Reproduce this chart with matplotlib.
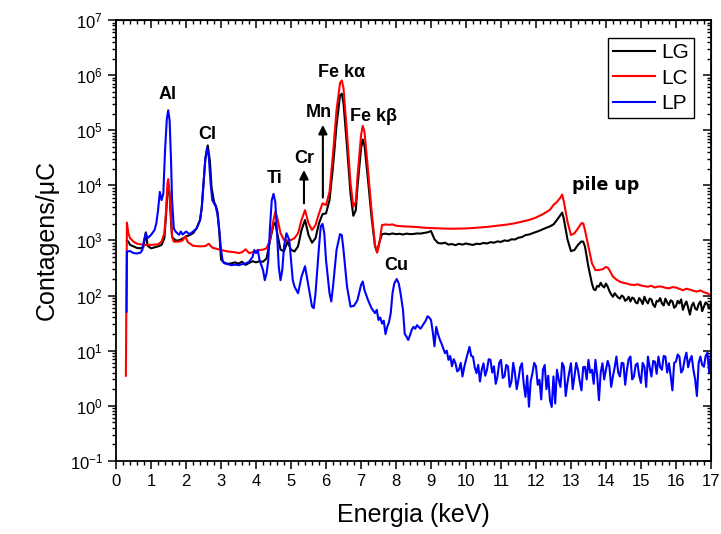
import numpy as np
import matplotlib
matplotlib.use("Agg")
import matplotlib.pyplot as plt
from matplotlib.ticker import MultipleLocator, LogLocator, NullFormatter

plt.rcParams['font.family'] = ['Liberation Sans', 'DejaVu Sans']
plt.rcParams['mathtext.fontset'] = 'custom'
plt.rcParams['mathtext.rm'] = 'Liberation Sans'
plt.rcParams['axes.unicode_minus'] = False

# LG (preto)
lg_e = [0.31, 0.35, 0.4, 0.5, 0.6, 0.7, 0.78, 0.85, 0.9, 1.0,
        1.1, 1.2, 1.3, 1.38, 1.43, 1.47, 1.5, 1.53, 1.57, 1.6,
        1.7, 1.8, 1.9, 2.0, 2.1, 2.2, 2.3, 2.4, 2.45, 2.5,
        2.55, 2.62, 2.68, 2.73, 2.8, 2.85, 2.9, 2.95, 3.0, 3.1,
        3.2, 3.3, 3.4, 3.5, 3.6, 3.7, 3.8, 3.9, 4.0, 4.1,
        4.2, 4.3, 4.4, 4.5, 4.55, 4.6, 4.7, 4.8, 4.9, 5.0,
        5.1, 5.2, 5.3, 5.4, 5.5, 5.6, 5.7, 5.8, 5.9, 6.0,
        6.1, 6.2, 6.3, 6.4, 6.45, 6.5, 6.6, 6.7, 6.78, 6.85,
        6.9, 7.0, 7.05, 7.1, 7.2, 7.3, 7.4, 7.46, 7.52, 7.6,
        7.7, 7.8, 7.9, 8.0, 8.1, 8.2, 8.3, 8.4, 8.5, 8.6,
        8.7, 8.8, 8.9, 9.0, 9.1, 9.2, 9.3, 9.4, 9.5, 9.6,
        9.7, 9.8, 9.9, 10.0, 10.1, 10.2, 10.3, 10.4, 10.5, 10.6,
        10.7, 10.8, 10.9, 11.0, 11.1, 11.2, 11.3, 11.4, 11.5, 11.6,
        11.7, 11.8, 11.9, 12.0, 12.1, 12.2, 12.3, 12.4, 12.5, 12.6,
        12.7, 12.75, 12.8, 12.9, 13.0, 13.1, 13.2, 13.3, 13.35, 13.4,
        13.5, 13.6, 13.65, 13.7, 13.75, 13.8, 13.85, 13.9, 13.95, 14.0,
        14.05, 14.1, 14.15, 14.2, 14.25, 14.3, 14.35, 14.4, 14.45, 14.5,
        14.55, 14.6, 14.65, 14.7, 14.75, 14.8, 14.85, 14.9, 14.95, 15.0,
        15.05, 15.1, 15.15, 15.2, 15.25, 15.3, 15.35, 15.4, 15.45, 15.5,
        15.55, 15.6, 15.65, 15.7, 15.75, 15.8, 15.85, 15.9, 15.95, 16.0,
        16.05, 16.1, 16.15, 16.2, 16.25, 16.3, 16.35, 16.4, 16.45, 16.5,
        16.55, 16.6, 16.65, 16.7, 16.75, 16.8, 16.85, 16.9, 16.95, 17.0]
lg_c = [1000, 950, 830, 780, 730, 720, 760, 1400, 800, 720,
        750, 780, 830, 1100, 3000, 8500, 10000, 6500, 2300, 1150,
        1000, 1000, 1080, 1180, 1250, 1350, 1650, 2350, 4000, 11000,
        30000, 53000, 28000, 9000, 5000, 4300, 3300, 1400, 450, 390,
        375, 385, 400, 380, 410, 360, 390, 420, 400, 420,
        410, 470, 1000, 1950, 2100, 1400, 680, 640, 950, 680,
        630, 780, 1550, 2350, 1250, 910, 1100, 2050, 3000, 3100,
        5400, 22000, 120000, 430000, 460000, 310000, 50000, 7100, 2800, 3500,
        9500, 46000, 68000, 53000, 12500, 2700, 780, 620, 900, 1300,
        1330, 1290, 1340, 1300, 1320, 1280, 1330, 1300, 1310, 1340,
        1330, 1370, 1400, 1480, 1050, 900, 880, 910, 840, 860,
        820, 870, 840, 880, 850, 830, 870, 860, 900, 880,
        930, 910, 960, 940, 1000, 980, 1050, 1040, 1120, 1150,
        1250, 1280, 1350, 1420, 1500, 1600, 1700, 1800, 1950, 2350,
        2900, 3200, 2400, 1050, 640, 670, 830, 960, 950, 780,
        330, 165, 130, 125, 150, 145, 170, 150, 140, 165,
        145, 120, 105, 95, 110, 100, 92, 88, 100, 95,
        80, 85, 95, 78, 92, 88, 75, 72, 90, 82,
        70, 95, 80, 72, 88, 85, 68, 62, 80, 78,
        90, 72, 66, 88, 75, 67, 82, 78, 60, 64,
        80, 72, 85, 55, 68, 78, 60, 45, 65, 74,
        58, 55, 70, 78, 52, 63, 75, 70, 58, 67]

# LC (vermelho)
lc_e = [0.28, 0.31, 0.35, 0.4, 0.5, 0.6, 0.8, 1.0, 1.2, 1.3,
        1.38, 1.43, 1.47, 1.49, 1.53, 1.57, 1.6, 1.65, 1.8, 1.9,
        1.98, 2.05, 2.2, 2.4, 2.55, 2.65, 2.75, 3.0, 3.2, 3.4,
        3.5, 3.6, 3.7, 3.8, 3.9, 4.0, 4.1, 4.2, 4.3, 4.4,
        4.5, 4.55, 4.6, 4.7, 4.8, 4.9, 5.0, 5.1, 5.2, 5.3,
        5.4, 5.5, 5.6, 5.7, 5.8, 5.9, 6.0, 6.1, 6.2, 6.3,
        6.4, 6.45, 6.5, 6.6, 6.7, 6.78, 6.85, 6.9, 7.0, 7.05,
        7.1, 7.2, 7.3, 7.4, 7.46, 7.52, 7.6, 7.7, 7.8, 7.9,
        8.0, 8.2, 8.4, 8.6, 8.8, 9.0, 9.2, 9.4, 9.6, 9.8,
        10.0, 10.2, 10.4, 10.6, 10.8, 11.0, 11.2, 11.4, 11.6, 11.8,
        12.0, 12.2, 12.4, 12.5, 12.6, 12.7, 12.75, 12.8, 12.9, 13.0,
        13.1, 13.2, 13.3, 13.35, 13.4, 13.5, 13.6, 13.7, 13.8, 13.9,
        14.0, 14.05, 14.1, 14.2, 14.3, 14.4, 14.5, 14.6, 14.7, 14.8,
        14.9, 15.0, 15.1, 15.2, 15.3, 15.4, 15.5, 15.6, 15.7, 15.8,
        15.9, 16.0, 16.1, 16.2, 16.3, 16.4, 16.5, 16.6, 16.7, 16.8,
        16.9, 17.0]
lc_c = [3.5, 2100, 1350, 1100, 950, 870, 830, 830, 850, 950,
        1350, 3550, 11000, 13000, 7000, 2700, 1180, 950, 950, 1000,
        1180, 930, 800, 780, 790, 870, 740, 670, 630, 610,
        590, 610, 690, 590, 610, 640, 670, 680, 720, 1020,
        2350, 3300, 2700, 1350, 1020, 1000, 1020, 1100, 1350, 2350,
        3550, 2050, 1550, 1900, 3100, 4700, 4400, 7600, 38000, 230000,
        720000, 800000, 580000, 88000, 11000, 4100, 5000, 14500, 80000, 120000,
        93000, 19000, 3550, 830, 600, 850, 1900, 1950, 1920, 1950,
        1850, 1800, 1780, 1750, 1700, 1680, 1660, 1640, 1630, 1640,
        1650, 1680, 1720, 1760, 1820, 1880, 1950, 2050, 2200, 2350,
        2600, 3000, 3600, 4400, 5000, 6000, 6800, 5000, 2200, 1250,
        1350, 1650, 2050, 2050, 1550, 780, 385, 290, 290, 300,
        330, 320, 290, 220, 195, 178, 170, 165, 158, 155,
        160, 152, 148, 145, 150, 140, 146, 145, 138, 135,
        142, 140, 132, 125, 133, 128, 122, 118, 124, 115,
        110, 100]

# LP (azul)
lp_e = [0.3, 0.31, 0.4, 0.5, 0.6, 0.7, 0.75, 0.8, 0.85, 0.9,
        1.0, 1.1, 1.15, 1.2, 1.25, 1.3, 1.35, 1.4, 1.45, 1.49,
        1.53, 1.57, 1.6, 1.65, 1.7, 1.8, 1.85, 1.9, 2.0, 2.1,
        2.2, 2.3, 2.4, 2.45, 2.5, 2.55, 2.6, 2.65, 2.7, 2.75,
        2.8, 2.85, 2.9, 2.95, 3.0, 3.05, 3.1, 3.2, 3.3, 3.4,
        3.5, 3.6, 3.7, 3.8, 3.9, 3.95, 4.0, 4.05, 4.1, 4.2,
        4.25, 4.3, 4.35, 4.4, 4.45, 4.5, 4.55, 4.6, 4.65, 4.7,
        4.75, 4.8, 4.87, 4.95, 5.0, 5.05, 5.1, 5.2, 5.3, 5.4,
        5.5, 5.6, 5.65, 5.7, 5.8, 5.85, 5.9, 5.95, 6.0, 6.1,
        6.15, 6.2, 6.3, 6.4, 6.45, 6.5, 6.6, 6.7, 6.8, 6.9,
        7.0, 7.05, 7.1, 7.2, 7.3, 7.4, 7.45, 7.5, 7.55, 7.6,
        7.65, 7.7, 7.75, 7.8, 7.85, 7.9, 7.95, 8.02, 8.08, 8.13,
        8.2, 8.25, 8.3, 8.35, 8.4, 8.45, 8.5, 8.55, 8.6, 8.65,
        8.7, 8.75, 8.8, 8.85, 8.9, 8.95, 9.0, 9.05, 9.1, 9.15,
        9.2, 9.25, 9.3, 9.35, 9.4, 9.45, 9.5, 9.55, 9.6, 9.65,
        9.7, 9.75, 9.8, 9.85, 9.9, 9.95, 10.0, 10.05, 10.1, 10.15,
        10.2, 10.25, 10.3, 10.35, 10.4, 10.45, 10.5, 10.55, 10.6, 10.65,
        10.7, 10.75, 10.8, 10.85, 10.9, 10.95, 11.0, 11.05, 11.1, 11.15,
        11.2, 11.25, 11.3, 11.35, 11.4, 11.45, 11.5, 11.55, 11.6, 11.65,
        11.7, 11.75, 11.8, 11.85, 11.9, 11.95, 12.0, 12.05, 12.1, 12.15,
        12.2, 12.25, 12.3, 12.35, 12.4, 12.45, 12.5, 12.55, 12.6, 12.65,
        12.7, 12.75, 12.8, 12.85, 12.9, 12.95, 13.0, 13.05, 13.1, 13.15,
        13.2, 13.25, 13.3, 13.35, 13.4, 13.45, 13.5, 13.55, 13.6, 13.65,
        13.7, 13.75, 13.8, 13.85, 13.9, 13.95, 14.0, 14.05, 14.1, 14.15,
        14.2, 14.25, 14.3, 14.35, 14.4, 14.45, 14.5, 14.55, 14.6, 14.65,
        14.7, 14.75, 14.8, 14.85, 14.9, 14.95, 15.0, 15.05, 15.1, 15.15,
        15.2, 15.25, 15.3, 15.35, 15.4, 15.45, 15.5, 15.55, 15.6, 15.65,
        15.7, 15.75, 15.8, 15.85, 15.9, 15.95, 16.0, 16.05, 16.1, 16.15,
        16.2, 16.25, 16.3, 16.35, 16.4, 16.45, 16.5, 16.55, 16.6, 16.65,
        16.7, 16.75, 16.8, 16.85, 16.9, 16.95, 17.0]
lp_c = [51, 630, 640, 590, 580, 600, 670, 1020, 1350, 1100,
        1260, 1550, 2050, 3550, 7600, 5400, 7100, 44000, 160000, 230000,
        150000, 29000, 5400, 1650, 1450, 1260, 1450, 1280, 1450, 1300,
        1450, 1650, 2350, 4100, 11000, 30000, 48000, 33000, 11000, 5400,
        4700, 4100, 2900, 1550, 670, 410, 385, 370, 355, 365,
        355, 370, 380, 410, 500, 670, 590, 670, 440, 290,
        190, 250, 440, 1800, 5400, 7000, 5000, 1350, 330, 190,
        290, 780, 1350, 1020, 440, 190, 145, 110, 220, 340,
        145, 63, 59, 110, 780, 1800, 2000, 1350, 440, 110,
        78, 145, 670, 1300, 1250, 670, 145, 63, 65, 83,
        155, 180, 125, 83, 59, 48, 55, 36, 40, 31,
        35, 20, 27, 33, 48, 110, 165, 200, 165, 110,
        55, 20, 18, 15.6, 19, 24, 27, 25, 29, 27,
        25, 28, 31.5, 35, 42, 40, 36, 22, 12, 27,
        20, 16, 13.5, 11, 9, 10, 6.8, 8, 5.2, 7,
        5.9, 4.2, 4.5, 6, 3.4, 5, 6.8, 9, 11.7, 8,
        7.8, 5, 3.9, 5.5, 2.75, 4.5, 5.9, 3.5, 4.5, 7,
        6.8, 4, 5.2, 2.5, 3.4, 6, 6.8, 3.2, 3.4, 5.5,
        5.2, 2.2, 2.75, 6, 3.9, 2, 3, 5, 5.9, 2.5,
        1.45, 3.5, 0.96, 2.8, 3.9, 6, 5.2, 2.4, 2.96, 1.3,
        4.5, 5.5, 2, 3.5, 1.26, 0.95, 3.4, 1.1, 4.5, 3,
        2.2, 6, 5.1, 1.5, 2.6, 4, 5.9, 2, 3.4, 6,
        4.5, 2.8, 1.9, 5, 5.1, 3, 6.8, 4, 4.5, 2.5,
        6.8, 3.5, 1.26, 4, 5.9, 3, 4.5, 6.5, 5.1, 2.2,
        3.4, 5, 7.8, 4, 3.4, 6, 5.9, 2.4, 4.5, 7,
        7.8, 3, 3.4, 5.5, 5.9, 3.5, 2.6, 6, 5.1, 2.2,
        7.8, 5, 3.4, 6.5, 6.3, 3.8, 7.8, 5, 4.5, 8,
        7.8, 4, 5.9, 3.5, 1.9, 6, 6.3, 8.5, 7.8, 4,
        4.5, 7, 9.2, 5, 6.8, 8, 4.5, 3, 1.5, 6,
        7.8, 5.5, 5.1, 8, 9.2, 4, 8.5]

# rotulos dos elementos: (texto, energia, contagens)
rot_txt = ['Al', 'Cl', 'Ti', 'Cr', 'Mn', 'Fe k\u03b1', 'Fe k\u03b2', 'Cu']
rot_e = [1.48, 2.6, 4.52, 5.37, 5.8, 6.45, 7.36, 8.01]
rot_c = [4.4e5, 8.5e4, 1.35e4, 3.1e4, 2.1e5, 1.12e6, 1.8e5, 355]

# setas (Cr, Mn)
seta_e = [5.37, 5.91]
seta_de = [4.7e3, 6.0e3]
seta_ate = [1.9e4, 1.25e5]

fig = plt.figure(figsize=(7.21, 5.34), dpi=100)
ax = fig.add_axes([0.161, 0.137, 0.825, 0.8255])

ax.plot(lg_e, lg_c, color='black', lw=1.5, label='LG')
ax.plot(lc_e, lc_c, color='red', lw=1.5, label='LC')
ax.plot(lp_e, lp_c, color='blue', lw=1.5, label='LP')

ax.set_yscale('log')
ax.set_xlim(0, 17)
ax.set_ylim(1e-1, 1e7)

ax.xaxis.set_major_locator(MultipleLocator(1))
ax.xaxis.set_minor_locator(MultipleLocator(0.2))
ax.yaxis.set_major_locator(LogLocator(base=10, numticks=20))
ax.yaxis.set_minor_locator(LogLocator(base=10, subs=np.arange(2, 10), numticks=20))
ax.yaxis.set_minor_formatter(NullFormatter())

ax.tick_params(which='major', direction='out', length=6, width=1.1, labelsize=12)
ax.tick_params(which='minor', direction='out', length=3, width=1.0)
for s in ax.spines.values():
    s.set_linewidth(1.3)

# ticks espelhados (para dentro) no topo e na direita
sx = ax.secondary_xaxis('top')
sx.xaxis.set_major_locator(MultipleLocator(1))
sx.xaxis.set_minor_locator(MultipleLocator(0.2))
sx.tick_params(which='major', direction='in', length=6, width=1.1, labeltop=False)
sx.tick_params(which='minor', direction='in', length=3, width=1.0)
sy = ax.secondary_yaxis('right')
sy.yaxis.set_major_locator(LogLocator(base=10, numticks=20))
sy.yaxis.set_minor_locator(LogLocator(base=10, subs=np.arange(2, 10), numticks=20))
sy.yaxis.set_minor_formatter(NullFormatter())
sy.tick_params(which='major', direction='in', length=6, width=1.1, labelright=False)
sy.tick_params(which='minor', direction='in', length=3, width=1.0)

ax.set_xlabel('Energia (keV)', fontsize=18, labelpad=10)
ax.set_ylabel('Contagens/\u03bcC', fontsize=18, labelpad=8)

for t, e, c in zip(rot_txt, rot_e, rot_c):
    ax.text(e, c, t, fontsize=13, fontweight='bold', ha='center', va='center')
ax.text(14.0, 1.0e4, 'pile up', fontsize=12.5, fontweight='bold', ha='center',
        va='center', family=['DejaVu Sans'])

for e, a, b in zip(seta_e, seta_de, seta_ate):
    ax.annotate('', xy=(e, b), xytext=(e, a),
                arrowprops=dict(arrowstyle='-|>', color='black', lw=1.5,
                                mutation_scale=13, shrinkA=0, shrinkB=0))

leg = ax.legend(loc='upper right', bbox_to_anchor=(0.972, 0.959), fontsize=15,
                handlelength=2.0, handletextpad=0.3, borderpad=0.25,
                labelspacing=0.3, fancybox=False, framealpha=1,
                edgecolor='black', borderaxespad=0)
leg.get_frame().set_linewidth(1.0)

fig.savefig('out.png', dpi=100)
